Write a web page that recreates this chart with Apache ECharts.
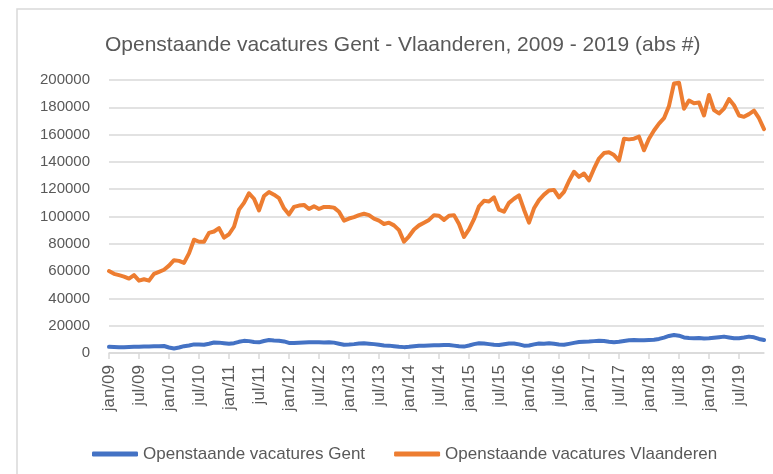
<!DOCTYPE html>
<html>
<head>
<meta charset="utf-8">
<script src="https://cdn.jsdelivr.net/npm/echarts@6/dist/echarts.min.js"></script>
<style>
html,body{margin:0;padding:0;background:#fff;}
#chart{width:773px;height:474px;}
</style>
</head>
<body>
<div id="chart"></div>
<script>
var monthNames = ['jan','feb','mrt','apr','mei','jun','jul','aug','sep','okt','nov','dec'];
var years = ['09','10','11','12','13','14','15','16','17','18','19'];
var yTicks = [0, 20000, 40000, 60000, 80000, 100000, 120000, 140000, 160000, 180000, 200000];

var gent = [
4500,4400,4300,4300,4400,4500,4500,4700,4800,4900,5000,5100,
4000,3300,4000,5000,5500,6300,6200,6000,6800,7700,7600,7200,
6700,7200,8200,8900,8700,8000,7800,8800,9500,9200,9000,8500,
7400,7300,7500,7700,7800,7900,7800,7700,7800,7600,6800,6000,
6200,6500,6900,7100,6800,6500,6000,5500,5400,5000,4600,4300,
4500,4900,5300,5400,5500,5600,5700,5900,5800,5400,5000,4700,
5500,6500,7100,6900,6500,6100,5900,6400,6900,7000,6300,5400,
5500,6300,7000,6800,7100,6700,6200,6000,6700,7400,8000,8300,
8400,8700,9000,8800,8300,7900,8200,8800,9400,9500,9400,9300,
9500,9700,10300,11300,12500,13200,12700,11400,11000,10800,10900,10700,
10800,11200,11600,12000,11400,10800,10800,11300,12000,11500,10300,9500
];

var vlaanderen = [
60000,58000,57000,56000,54500,57000,53000,54000,53000,58000,59500,61000,
64000,68000,67500,66000,73000,83000,81500,81500,88000,89000,91500,84500,
87000,92500,105000,110000,117000,113000,104500,115000,118000,116000,113500,106000,
101500,107000,108000,108500,105500,107500,105500,107000,107000,106500,103500,97000,
98500,99500,101000,102000,101000,98500,97000,94500,95500,93500,90000,81500,
85500,90500,93500,95500,97500,101000,100500,97500,100500,101000,94500,85000,
90500,98000,107500,111500,111000,114000,105000,103500,110000,113000,115500,105000,
95500,106000,112000,116000,119000,119500,114000,118000,126000,132800,129000,131500,
126500,135000,142500,146500,147000,145000,141000,157000,156500,157000,158500,148500,
157000,163000,168000,172000,181000,197500,198000,179000,185000,183000,183500,174000,
189000,178000,175500,179000,186000,181500,174000,173000,175000,177500,172000,164000
];

var categories = [];
years.forEach(function (y) {
  monthNames.forEach(function (m) { categories.push(m + '/' + y); });
});

var textColor = '#595959';
var gridColor = '#d9d9d9';
var font = 'Liberation Sans';

var chart = echarts.init(document.getElementById('chart'), null, {renderer: 'canvas'});
chart.setOption({
  animation: false,
  backgroundColor: '#ffffff',
  graphic: [{
    type: 'rect',
    shape: {x: 17, y: 9, width: 900, height: 600},
    style: {fill: 'none', stroke: gridColor, lineWidth: 1.5},
    z: -10
  }],
  title: {
    text: 'Openstaande vacatures Gent - Vlaanderen, 2009 - 2019 (abs #)',
    left: 100,
    top: 30,
    textStyle: {fontFamily: font, fontSize: 21, fontWeight: 'normal', color: textColor}
  },
  legend: {
    left: 87,
    top: 439,
    itemWidth: 46,
    itemHeight: 5,
    itemGap: 29,
    icon: 'roundRect',
    textStyle: {fontFamily: font, fontSize: 17, color: textColor, lineHeight: 20},
    data: ['Openstaande vacatures Gent', 'Openstaande vacatures Vlaanderen']
  },
  grid: {left: 109, right: 9, top: 80, bottom: 121, containLabel: false},
  xAxis: {
    type: 'category',
    data: categories,
    boundaryGap: false,
    axisLine: {show: true, lineStyle: {color: gridColor, width: 1.5}},
    axisTick: {show: true, interval: 5, length: 6, lineStyle: {color: gridColor, width: 1.5}},
    axisLabel: {
      interval: 5,
      rotate: 90,
      margin: 12,
      fontFamily: font,
      fontSize: 17,
      color: textColor
    },
    splitLine: {show: false}
  },
  yAxis: {
    type: 'value',
    min: yTicks[0],
    max: yTicks[yTicks.length - 1],
    interval: yTicks[1] - yTicks[0],
    axisLine: {show: false},
    axisTick: {show: false},
    axisLabel: {
      margin: 19, fontFamily: font, fontSize: 15, color: textColor,
      formatter: function (v) { return String(v); }
    },
    splitLine: {lineStyle: {color: gridColor, width: 1.5}}
  },
  series: [
    {
      name: 'Openstaande vacatures Gent',
      type: 'line',
      data: gent,
      symbol: 'none',
      color: '#4472C4',
      lineStyle: {width: 4, color: '#4472C4', cap: 'round', join: 'round'}
    },
    {
      name: 'Openstaande vacatures Vlaanderen',
      type: 'line',
      data: vlaanderen,
      symbol: 'none',
      color: '#ED7D31',
      lineStyle: {width: 4, color: '#ED7D31', cap: 'round', join: 'round'}
    }
  ]
});
</script>
</body>
</html>
